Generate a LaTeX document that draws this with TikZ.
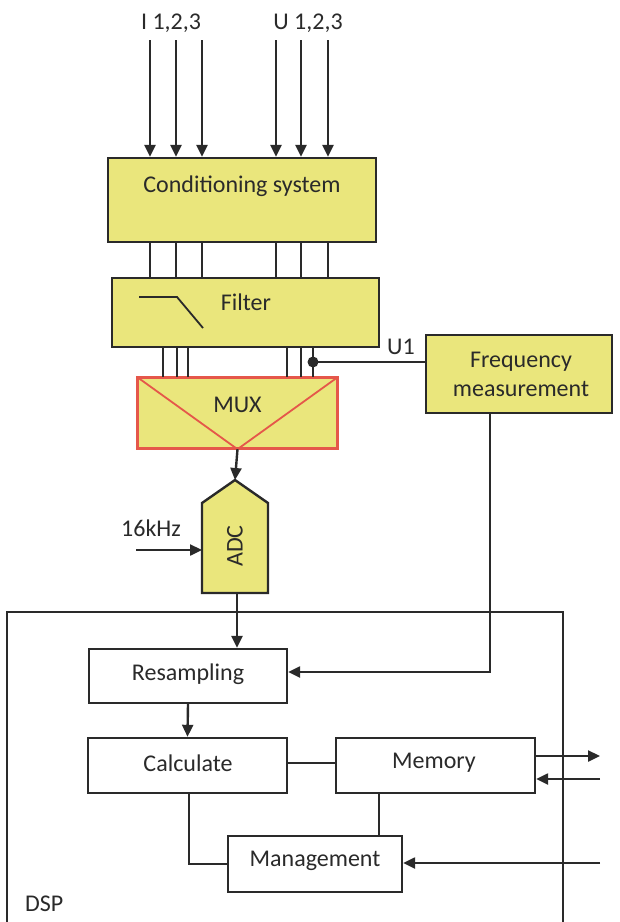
\documentclass[tikz,border=0pt]{standalone}
\usepackage{fontspec}
\setmainfont{Carlito}
\usetikzlibrary{arrows.meta,calc}
\definecolor{boxyellow}{HTML}{EAE67C}
\definecolor{muxred}{HTML}{E5574A}
\definecolor{linecol}{HTML}{2A2A2A}
\tikzset{
  base/.style={draw=linecol, line width=2.4pt},
  ybox/.style={base, fill=boxyellow, inner sep=0pt},
  wbox/.style={base, fill=white, inner sep=0pt},
  lbl/.style={inner sep=0pt, font=\fontsize{24}{29}\selectfont, text=linecol},
  wire/.style={draw=linecol, line width=2.4pt},
  arr/.style={wire, -{Triangle[length=12pt,width=11pt]}},
}
\begin{document}
\begin{tikzpicture}[x=1pt,y=-1pt]
\useasboundingbox (0,0) rectangle (620,922);

% labels top
\node[lbl] (ilab) at (171,23) {I 1,2,3};
\node[lbl] (ulab) at (308,23) {U 1,2,3};

% boxes
\node[ybox, minimum width=268pt, minimum height=84pt] (cond) at (242,200) {};
\node[lbl] (condtxt) at (242,186) {Conditioning system};
\node[ybox, minimum width=267pt, minimum height=69pt] (filter) at (245.5,312.5) {};
\node[lbl] (filtertxt) at (246,302) {Filter};
\node[ybox, draw=muxred, minimum width=199pt, minimum height=70pt] (mux) at (237.5,413) {};
\node[lbl] (muxtxt) at (237.5,405) {MUX};
\node[ybox, minimum width=186pt, minimum height=78pt] (fm) at (519,374) {};
\node[lbl] (fmtxt1) at (521,362) {Frequency};
\node[lbl] (fmtxt2) at (521,389) {measurement};

% filter symbol
\draw[wire, line width=1.8pt] (139,297) -- (177,297) -- (203,328);
% mux diagonals
\draw[draw=muxred, line width=1.8pt] (mux.north west) -- (mux.south) -- (mux.north east);
\draw[draw=muxred, line width=2.4pt] (mux.south west) rectangle (mux.north east);

% input arrows
\foreach \x [count=\i] in {150,176,202,276,301,328} {
  \coordinate (in\i) at (\x,40);
  \draw[arr] (in\i) -- (in\i |- cond.north);
  \draw[wire] (in\i |- cond.south) -- (in\i |- filter.north);
}
% filter to mux
\foreach \x [count=\i] in {163,177,188,287,301,313} {
  \coordinate (fo\i) at (\x,347);
  \draw[wire] (fo\i |- filter.south) -- (fo\i |- mux.north);
}
% U1 tap
\coordinate (dot) at (313,362);
\fill[linecol] (dot) circle (5.5pt);
\draw[wire] (dot) -- (dot -| fm.west);
\node[lbl] (u1) at (401,347) {U1};

% ADC
\coordinate (adctop) at (235,480);
\coordinate (adcbot) at (237,593);
\draw[base, fill=boxyellow, line join=miter] (202,593) -- (202,503) -- (adctop) -- (268,503) -- (268,593) -- cycle;
\node[lbl, rotate=90] (adc) at (235,546) {ADC};
\draw[arr] (mux.south) -- (adctop);
\node[lbl] (khz) at (151,528) {16kHz};
\coordinate (clk) at (136,550);
\draw[arr] (clk) -- (202,550);

% DSP border
\draw[wire] (7,922) -- (7,612) -- (563,612) -- (563,922);
\node[lbl, anchor=west] (dsp) at (25,904) {DSP};

% DSP boxes
\node[wbox, minimum width=198pt, minimum height=54pt] (res) at (188,676) {};
\node[lbl] (restxt) at (188,674) {Resampling};
\node[wbox, minimum width=199pt, minimum height=55pt] (calc) at (187.5,765.5) {};
\node[lbl] (calctxt) at (188,763) {Calculate};
\node[wbox, minimum width=199pt, minimum height=55pt] (mem) at (435.5,765.5) {};
\node[lbl] (memtxt) at (434,763) {Memory};
\node[wbox, minimum width=174pt, minimum height=56pt] (mgmt) at (315,864) {};
\node[lbl] (mgmttxt) at (315,861) {Management};

% connectors
\draw[arr] (adcbot) -- (adcbot |- res.north);
\draw[arr] (fm.south -| 490,0) |- (res.east |- 0,672);
\draw[arr] (res.south) -- (calc.north);
\draw[wire] (calc.east |- 0,763) -- (mem.west |- 0,763);
\draw[wire] (calc.south -| 189,0) |- (mgmt.west);
\draw[wire] (mem.south -| 379,0) -- (mgmt.north -| 379,0);
\coordinate (out1) at (600,756);
\coordinate (in1) at (600,779);
\coordinate (in2) at (600,863);
\draw[arr] (mem.east |- out1) -- (out1);
\draw[arr] (in1) -- (in1 -| mem.east);
\draw[arr] (in2) -- (in2 -| mgmt.east);
\end{tikzpicture}
\end{document}
